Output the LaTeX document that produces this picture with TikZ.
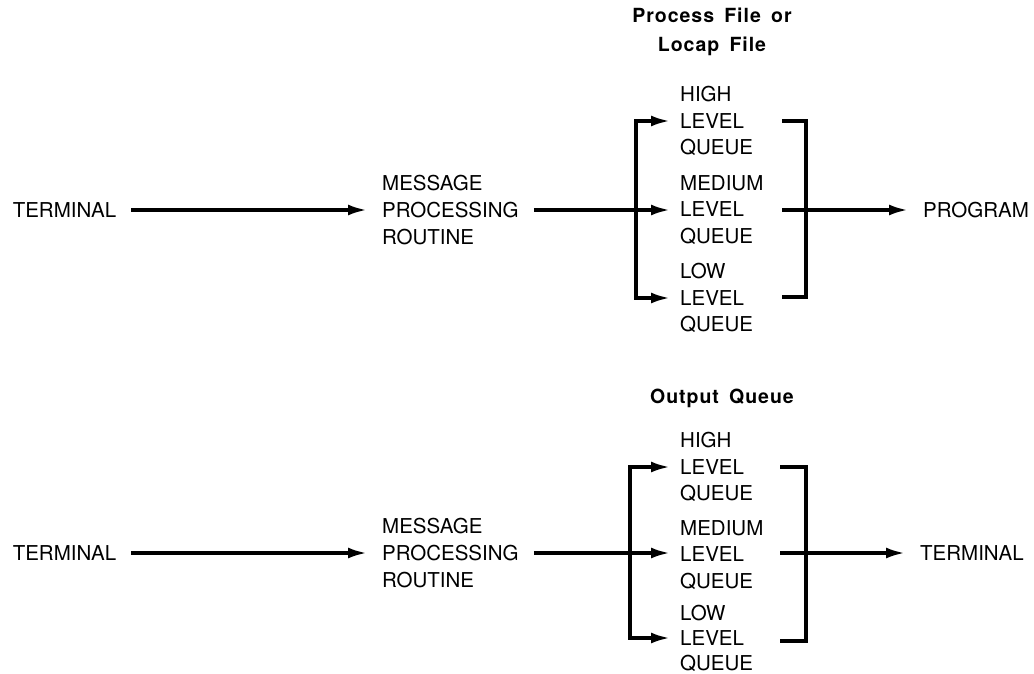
\documentclass[tikz,border=0pt]{standalone}
\usepackage{fontspec}
\setmainfont{TeX Gyre Heros}
\newfontfamily\ttlfont[LetterSpace=5,WordSpace=1.6]{TeX Gyre Heros}
\usetikzlibrary{arrows.meta}
\begin{document}
\begin{tikzpicture}[x=1pt,y=-1pt,
  lbl/.style={inner xsep=15pt,inner ysep=0pt,align=left,font=\fontsize{20.5}{27}\selectfont},
  qlbl/.style={inner xsep=10pt,inner ysep=0pt,align=left,anchor=west,font=\fontsize{20.5}{26.5}\selectfont},
  qlblb/.style={qlbl,font=\fontsize{20.5}{25}\selectfont},
  ttl/.style={inner sep=0pt,align=center,font=\ttlfont\bfseries\fontsize{19.5}{29}\selectfont},
  arr/.style={line width=3.3pt,-{Latex[length=19pt,width=11pt]}},
  ln/.style={line width=3.3pt}]
\useasboundingbox (0,0) rectangle (1034,674);
% ---------- top diagram ----------
\node[ttl] (t1) at (712,32) {Process File or\\Locap File};
\node[lbl] (term1) at (64.5,210) {TERMINAL};
\node[lbl,anchor=west] (msg1) at (367,210) {MESSAGE\\PROCESSING\\ROUTINE};
\node[qlbl] (hi1) at (670,121) {HIGH\\LEVEL\\QUEUE};
\node[qlbl] (me1) at (670,210) {MEDIUM\\LEVEL\\QUEUE};
\node[qlbl] (lo1) at (670,298) {LOW\\LEVEL\\QUEUE};
\node[lbl,anchor=west] (prog1) at (908,210) {PROGRAM};
\coordinate (bl1) at (636,210);
\coordinate (rt1) at (782,121);
\coordinate (rb1) at (782,297);
\coordinate (rm1) at (782,210);
\draw[arr] (term1) -- (msg1);
\draw[arr] (msg1.east) -- (me1.west);
\draw[arr] (bl1) |- (hi1.west);
\draw[arr] (bl1) |- (lo1.west);
\draw[ln] (rt1) -- ++(24,0) |- (rb1);
\draw[arr] (rm1) -- (prog1.west);
% ---------- bottom diagram ----------
\node[ttl] (t2) at (722,398) {Output Queue};
\node[lbl] (term2) at (64.5,553) {TERMINAL};
\node[lbl,anchor=west] (msg2) at (367,553) {MESSAGE\\PROCESSING\\ROUTINE};
\node[qlbl] (hi2) at (670,467) {HIGH\\LEVEL\\QUEUE};
\node[qlbl] (me2) at (670,555) {MEDIUM\\LEVEL\\QUEUE};
\node[qlblb] (lo2) at (670,638) {LOW\\LEVEL\\QUEUE};
\node[lbl,anchor=west] (term3) at (905,553) {TERMINAL};
\coordinate (bl2) at (630,553);
\coordinate (rt2) at (780,467);
\coordinate (rb2) at (780,641);
\coordinate (rm2) at (780,553);
\draw[arr] (term2) -- (msg2);
\draw[arr] (msg2.east) -- (bl2) -- (bl2 -| me2.west);
\draw[arr] (bl2) |- (hi2.west);
\draw[arr] (bl2) |- (lo2.west);
\draw[ln] (rt2) -- ++(26,0) |- (rb2);
\draw[arr] (rm2) -- (term3.west);
\end{tikzpicture}
\end{document}
